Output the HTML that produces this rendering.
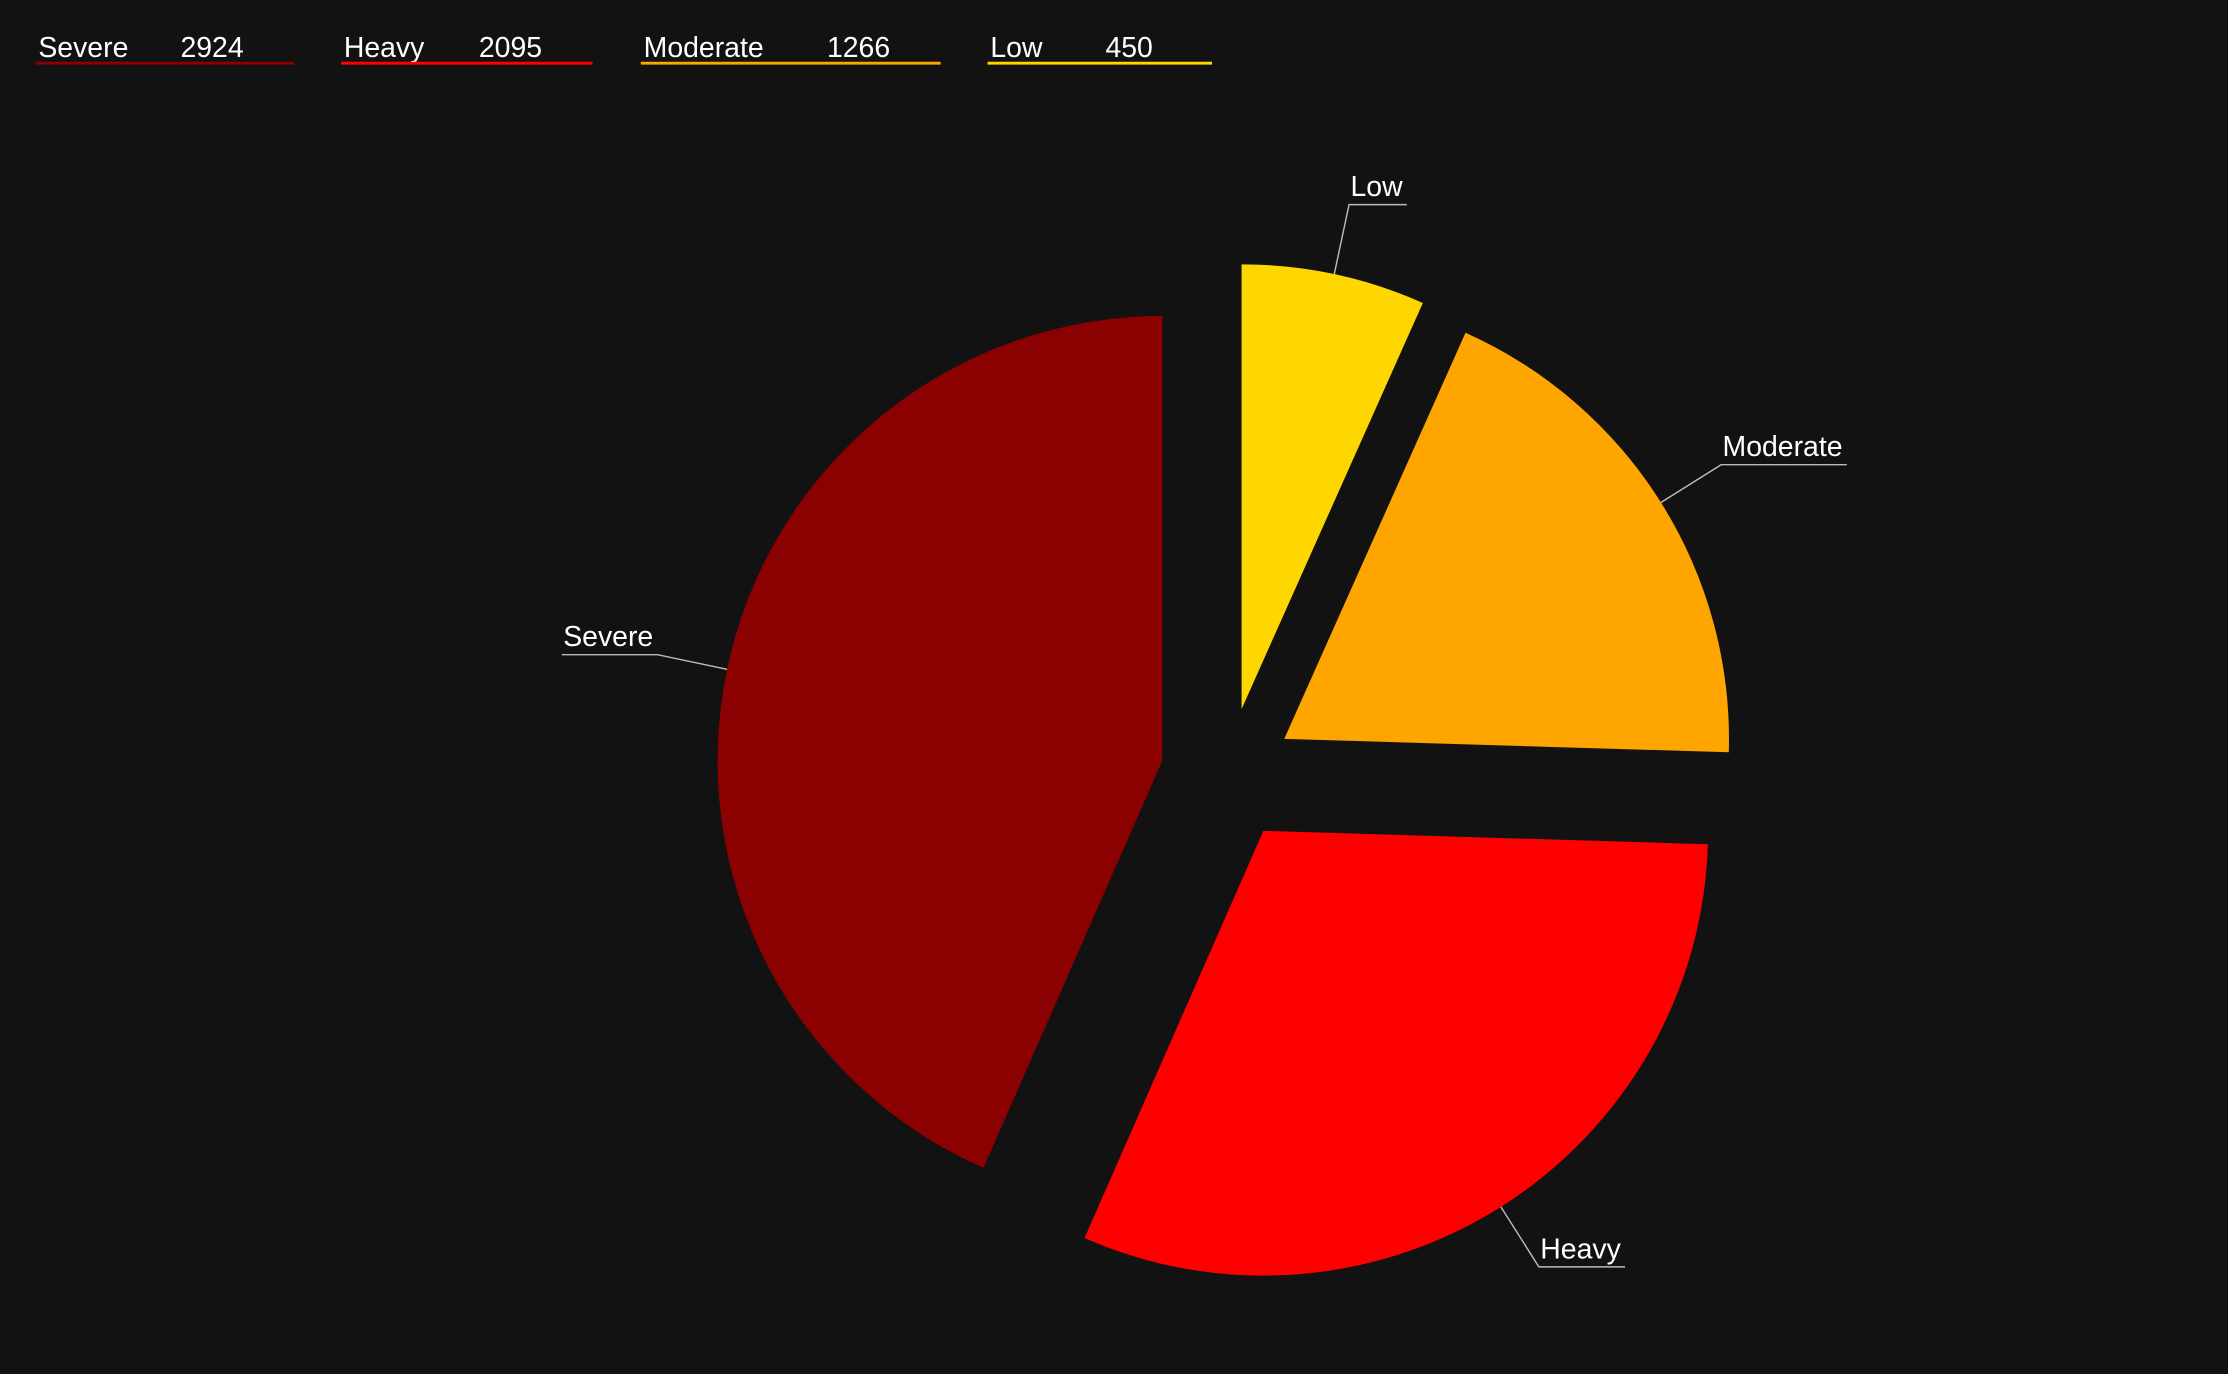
<!DOCTYPE html>
<html><head><meta charset="utf-8">
<style>
html,body{margin:0;padding:0;background:#121212;}
svg{display:block;}
text{font-family:"Liberation Sans",sans-serif;fill:#fff;}
</style></head>
<body>
<svg id="chart" width="2228" height="1374" viewBox="0 0 1568 967" preserveAspectRatio="none" xmlns="http://www.w3.org/2000/svg">
<rect width="1568" height="967" fill="#121212"/>
<g id="legend"></g>
<g id="slices"></g>
<g id="labels"></g>
</svg>
<script>
const categories = ["Severe","Heavy","Moderate","Low"];
const values = [2924,2095,1266,450];
const colors = ["#8B0000","#FF0000","#FFA500","#FFD700"];

const NS="http://www.w3.org/2000/svg";
const cx=864, cy=545, R=313, explode=47;
const total=values.reduce((a,b)=>a+b,0);
function mk(tag,attrs,parent){const e=document.createElementNS(NS,tag);for(const k in attrs)e.setAttribute(k,attrs[k]);parent.appendChild(e);return e;}
function pt(ox,oy,r,a){return [ox+r*Math.sin(a), oy-r*Math.cos(a)];}

// clockwise from top: reversed order (Low first)
const order=[3,2,1,0];
let ang=0;
const slicesG=document.getElementById('slices'), labelsG=document.getElementById('labels');
order.forEach(i=>{
  const sweep=values[i]/total*2*Math.PI;
  const a0=ang, a1=ang+sweep, mid=(a0+a1)/2;
  ang=a1;
  const ox=cx+explode*Math.sin(mid), oy=cy-explode*Math.cos(mid);
  const p0=pt(ox,oy,R,a0), p1=pt(ox,oy,R,a1);
  const large=sweep>Math.PI?1:0;
  const path=mk('path',{d:`M${ox},${oy} L${p0[0]},${p0[1]} A${R},${R} 0 ${large} 1 ${p1[0]},${p1[1]} Z`,fill:colors[i]},slicesG);
  
  
  // leader line
  const s=pt(ox,oy,R,mid), e=pt(ox,oy,R+50,mid);
  const right=Math.sin(mid)>=0;
  const t=mk('text',{x:0,y:e[1]-6,'font-size':20},labelsG);
  t.textContent=categories[i];
  
  
  const w=t.getComputedTextLength()+4;
  const hx=right?e[0]+w:e[0]-w;
  t.setAttribute('x', right?e[0]+1:hx+1);
  const ln=mk('polyline',{points:`${s[0]},${s[1]} ${e[0]},${e[1]} ${hx},${e[1]}`,fill:'none',stroke:'#bbb','stroke-width':1},labelsG);
  
  
});

// legend
const legendX=[27,242,453,697];
const legendEnd=[207,417,662,853];
const valueX=[127,337,582,778];
const lg=document.getElementById('legend');
categories.forEach((c,i)=>{
  const g=mk('g',{},lg);
  
  
  const t=mk('text',{x:legendX[i],y:40,'font-size':20},g);
  t.textContent=c;
  
  
  const v=mk('text',{x:valueX[i],y:40,'font-size':20},g);
  v.textContent=values[i];
  
  
  const l=mk('line',{x1:legendX[i]-2,x2:legendEnd[i],y1:44.5,y2:44.5,stroke:colors[i],'stroke-width':2},g);
  
  
});
</script>
</body></html>
